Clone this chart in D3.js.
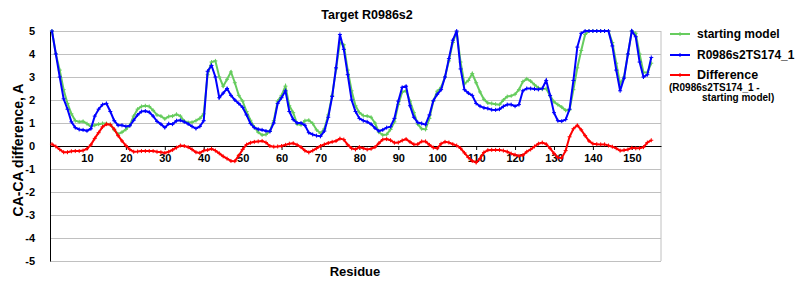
<!DOCTYPE html>
<meta charset="utf-8">
<script src="https://d3js.org/d3.v7.min.js"></script>
<style>
  body { margin: 0; background: #fff; }
  text { font-family: Arial, "Liberation Sans", sans-serif; font-weight: bold; fill: #000; }
</style>
<body>
<div id="chart"></div>
<script>

// CA-CA difference per residue
var startingModel = [
  5.0, 4.0, 3.3, 2.45, 1.85, 1.4, 1.1, 1.05, 1.07, 0.97,
  0.85, 0.9, 0.95, 0.98, 0.98, 0.93, 0.7, 0.52, 0.6, 0.72,
  0.9, 1.3, 1.6, 1.72, 1.75, 1.72, 1.55, 1.35, 1.3, 1.18,
  1.28, 1.3, 1.38, 1.3, 1.08, 1.02, 1.03, 1.1, 1.2, 1.4,
  3.1, 3.65, 3.7, 3.0, 2.6, 2.9, 3.22, 2.75, 2.2, 1.95,
  1.5, 1.12, 0.82, 0.6, 0.48, 0.5, 0.65, 1.1, 1.95, 2.2,
  2.6, 1.75, 1.45, 0.95, 0.92, 1.1, 1.12, 0.98, 0.7, 0.55,
  0.75, 1.35, 2.2, 3.35, 4.5, 4.4, 3.3, 2.4, 1.75, 1.45,
  1.32, 1.3, 1.25, 1.0, 0.6, 0.48, 0.5, 0.72, 1.05, 1.8,
  2.35, 2.4, 1.95, 1.45, 0.95, 0.75, 0.72, 1.2, 1.95, 2.38,
  2.55, 3.0, 3.7, 4.5, 4.95, 3.65, 2.7, 2.85, 3.15, 2.75,
  2.35, 2.03, 1.87, 1.85, 1.82, 1.8, 2.0, 2.15, 2.18, 2.25,
  2.45, 2.8, 2.92, 2.82, 2.66, 2.53, 2.47, 2.5, 2.18, 1.92,
  1.8, 1.69, 1.55, 1.57, 2.45, 3.4, 4.15, 4.85, 5.0, 5.0,
  5.0, 5.0, 5.0, 5.0, 4.5, 3.6, 2.7, 3.0, 4.0, 5.0,
  4.9, 4.0, 3.2, 3.2, 3.6
];

var model = [
  5.0, 4.0, 3.0, 2.05, 1.6, 1.05, 0.8, 0.72, 0.7, 0.66,
  0.75, 1.3, 1.6, 1.8, 1.85, 1.5, 1.1, 0.9, 0.9, 0.85,
  0.88, 1.12, 1.35, 1.5, 1.52, 1.47, 1.3, 1.07, 0.95, 0.8,
  0.97, 0.95, 1.1, 1.12, 1.05, 0.96, 0.85, 0.76, 0.85, 1.1,
  3.25, 3.5, 3.0, 2.1, 2.3, 2.5, 2.2, 2.0, 1.85, 1.68,
  1.35, 0.98, 0.8, 0.73, 0.7, 0.65, 0.63, 1.0, 1.85, 2.1,
  2.4, 1.5, 1.15, 1.0, 1.0, 0.9, 0.58, 0.5, 0.45, 0.42,
  0.65, 1.25, 2.15, 3.4, 4.85, 4.2, 3.1, 2.0, 1.5, 1.2,
  1.1, 1.05, 0.95, 0.78, 0.65, 0.7, 0.8, 0.84, 1.2, 1.95,
  2.55, 2.6, 1.75, 1.25, 1.02, 0.98, 0.93, 1.35, 1.97, 2.25,
  2.45, 3.0, 3.8, 4.6, 5.0, 3.35, 2.45, 2.3, 2.2, 1.85,
  1.73, 1.66, 1.63, 1.58, 1.57, 1.6, 1.72, 1.8, 1.8, 1.73,
  1.8, 2.4, 2.5, 2.5, 2.48, 2.46, 2.5, 2.85, 2.2, 1.45,
  1.1, 1.08, 1.15, 1.6, 2.85, 4.3, 4.9, 5.0, 5.0, 5.0,
  5.0, 5.0, 5.0, 5.0, 4.35, 3.3, 2.4, 2.95, 4.0, 5.0,
  4.75, 3.65, 3.0, 3.1, 3.85
];

var difference = [
  0.08, -0.02, -0.15, -0.27, -0.27, -0.23, -0.22, -0.22, -0.2, -0.12,
  0.05, 0.33, 0.58, 0.83, 0.95, 0.93, 0.73, 0.45, 0.22, 0.02,
  -0.15, -0.25, -0.24, -0.22, -0.22, -0.22, -0.22, -0.25, -0.27, -0.3,
  -0.25, -0.17, -0.07, 0.02, 0.0, -0.05, -0.15, -0.27, -0.3, -0.2,
  -0.17, -0.12, -0.2, -0.32, -0.45, -0.55, -0.65, -0.66, -0.42, -0.15,
  0.06, 0.14, 0.18, 0.2, 0.22, 0.15, 0.0, -0.03, -0.02, 0.0,
  0.05, 0.1, 0.12, 0.05, -0.05, -0.2, -0.28, -0.2, -0.1, 0.0,
  0.07, 0.13, 0.18, 0.22, 0.32, 0.28, 0.05, -0.1, -0.15, -0.05,
  -0.1, -0.15, -0.12, -0.05, 0.12, 0.28, 0.3, 0.25, 0.14, 0.15,
  0.24, 0.3, 0.18, 0.07, 0.08, 0.2, 0.2, 0.05, -0.07, -0.1,
  0.1, 0.18, 0.15, 0.08, 0.02, -0.1, -0.3, -0.5, -0.65, -0.72,
  -0.55, -0.28, -0.18, -0.17, -0.17, -0.17, -0.2, -0.25, -0.33, -0.38,
  -0.43, -0.4, -0.25, -0.15, -0.02, 0.1, 0.15, 0.08, -0.1, -0.32,
  -0.5, -0.52, -0.2, 0.4, 0.75, 0.9, 0.7, 0.45, 0.22, 0.1,
  0.08, 0.07, 0.07, 0.02, -0.03, -0.1, -0.2, -0.18, -0.15, -0.08,
  -0.1, -0.1, -0.05, 0.15, 0.25
];

var residues = d3.range(1, startingModel.length + 1);
var xTicks = [10, 20, 30, 40, 50, 60, 70, 80, 90, 100, 110, 120, 130, 140, 150];
var yTicks = [5, 4, 3, 2, 1, 0, -1, -2, -3, -4, -5];
var seriesNames = ["starting model", "R0986s2TS174_1", "Difference"];
var seriesColors = ["#66cc5e", "#0000ff", "#ff0000"];

// dimensions of the plotting area
var margin = { top: 31, left: 50 },
    width = 611,
    height = 230;

var svg = d3.select("#chart").append("svg")
    .attr("width", 800)
    .attr("height", 300);

var g = svg.append("g")
    .attr("transform", "translate(" + margin.left + "," + margin.top + ")");

var x = d3.scaleLinear().domain([0.5, 157.5]).range([0, width]);
var y = d3.scaleLinear().domain([-5, 5]).range([height, 0]);

// horizontal grid lines
g.append("g")
    .call(d3.axisLeft(y).tickValues(yTicks).tickSize(-width).tickFormat(""))
    .call(function (a) {
      a.select(".domain").remove();
      a.selectAll("line").attr("stroke", "#c0c0c0");
    });

// right border
g.append("line")
    .attr("x1", width).attr("x2", width)
    .attr("y1", 0).attr("y2", height)
    .attr("stroke", "#c0c0c0");

// y axis labels + left line
g.append("g")
    .call(d3.axisLeft(y).tickValues(yTicks).tickSize(0).tickPadding(15)
      .tickFormat(function (d) { return String(d); }))
    .call(function (a) {
      a.select(".domain").attr("stroke", "#000");
      a.selectAll("text").style("font-size", "11px").style("font-family", "Arial, 'Liberation Sans', sans-serif").style("font-weight", "bold");
    });

// x axis along zero
g.append("g")
    .attr("transform", "translate(0," + y(0) + ")")
    .call(d3.axisBottom(x).tickValues(xTicks).tickSize(4).tickSizeOuter(0).tickPadding(4))
    .call(function (a) {
      a.select(".domain").attr("stroke", "#000");
      a.selectAll("line").attr("stroke", "#000");
      a.selectAll("text").style("font-size", "11px").style("font-family", "Arial, 'Liberation Sans', sans-serif").style("font-weight", "bold");
    });

// the three series
var seriesData = [startingModel, model, difference];
var line = d3.line()
    .x(function (d, i) { return x(residues[i]); })
    .y(function (d) { return y(d); });

seriesData.forEach(function (values, k) {
  g.append("path")
      .datum(values)
      .attr("fill", "none")
      .attr("stroke", seriesColors[k])
      .attr("stroke-width", 2)
      .attr("d", line);

  g.append("g").selectAll("path")
      .data(values)
      .enter().append("path")
      .attr("transform", function (d, i) { return "translate(" + x(residues[i]) + "," + y(d) + ")"; })
      .attr("d", "M-2,0h4M0,-2v4")
      .attr("stroke", seriesColors[k])
      .attr("stroke-width", 1);
});

// titles
svg.append("text")
    .attr("x", 367).attr("y", 19)
    .attr("text-anchor", "middle")
    .style("font-size", "12.5px")
    .text("Target R0986s2");

svg.append("text")
    .attr("transform", "translate(23,150) rotate(-90)")
    .attr("text-anchor", "middle")
    .style("font-size", "14px")
    .text("CA-CA difference, A");

svg.append("text")
    .attr("x", 355).attr("y", 276)
    .attr("text-anchor", "middle")
    .style("font-size", "13px")
    .text("Residue");

// legend
var legendY = [34, 55, 75];
seriesNames.forEach(function (name, k) {
  var lg = svg.append("g").attr("transform", "translate(670," + legendY[k] + ")");
  lg.append("line")
      .attr("x1", 0).attr("x2", 20)
      .attr("stroke", seriesColors[k]).attr("stroke-width", 2);
  lg.append("path")
      .attr("d", "M8,0h4M10,-2v4")
      .attr("stroke", seriesColors[k]).attr("stroke-width", 1);
  lg.append("text")
      .attr("x", 27).attr("y", 4)
      .style("font-size", k === 2 ? "12.5px" : "12px")
      .text(name);
});
svg.append("text")
    .attr("x", 669).attr("y", 91)
    .style("font-size", "10px")
    .text("(R0986s2TS174_1 -");
svg.append("text")
    .attr("x", 702).attr("y", 101)
    .style("font-size", "10px")
    .text("starting model)");

</script>
</body>
